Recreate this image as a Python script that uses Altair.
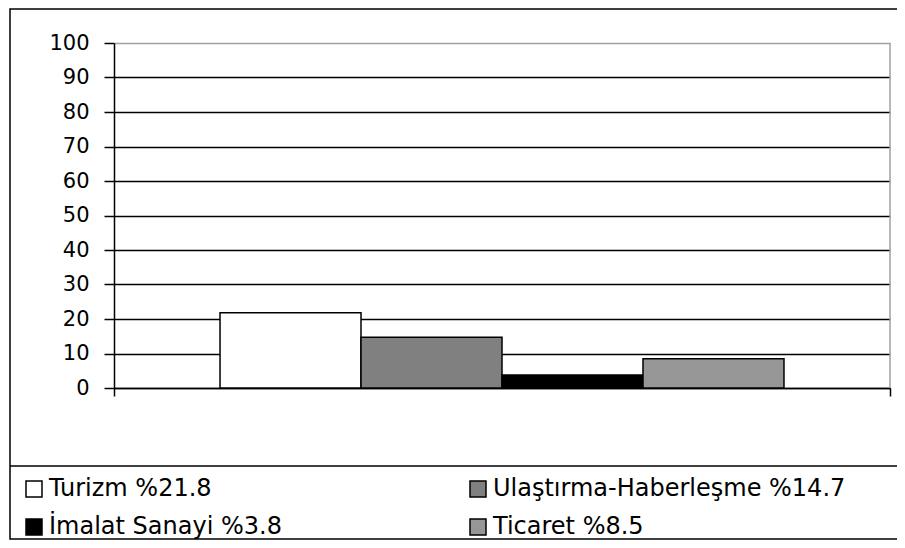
import altair as alt
import pandas as pd

# ---- data ----
sectors = ["Turizm %21.8", "Ulaştırma-Haberleşme %14.7", "İmalat Sanayi %3.8", "Ticaret %8.5"]
values = [21.8, 14.7, 3.8, 8.5]
colors = ["#ffffff", "#808080", "#000000", "#969696"]
y_ticks = [0, 10, 20, 30, 40, 50, 60, 70, 80, 90, 100]
# legend fills column by column: this order gives rows
# (Turizm, Ulaştırma) and (İmalat, Ticaret) as in the reference
legend_order = [0, 2, 1, 3]

W, H = 776, 345
FONT = "DejaVu Sans"

df = pd.DataFrame({"sector": sectors, "value": values})
leg_domain = [sectors[i] for i in legend_order]
leg_range = [colors[i] for i in legend_order]

bars = alt.Chart(df).mark_bar(stroke="black", strokeWidth=1.5).encode(
    x=alt.X("sector:N", sort=sectors,
            scale=alt.Scale(paddingInner=0, paddingOuter=0.752), axis=None),
    y=alt.Y("value:Q", scale=alt.Scale(domain=[0, 100], nice=False),
            axis=alt.Axis(values=y_ticks, title=None, tickSize=10, tickWidth=1.5,
                          tickColor="black", domainColor="black", domainWidth=1.5,
                          labelFont=FONT, labelFontSize=21, labelColor="black",
                          labelPadding=15, grid=True, gridWidth=1.3,
                          gridColor={"condition": {"test": "datum.value === 100", "value": "#a0a0a0"},
                                     "value": "#000000"})),
    fill=alt.Fill("sector:N",
                  scale=alt.Scale(domain=leg_domain, range=leg_range),
                  legend=alt.Legend(orient="none", legendX=-92, legendY=434, columns=2,
                                    title=None, symbolType="square", symbolSize=256,
                                    symbolStrokeColor="black", symbolStrokeWidth=1.5,
                                    labelFont=FONT, labelFontSize=24, labelColor="black",
                                    labelOffset=3, columnPadding=184, rowPadding=14,
                                    padding=0, labelLimit=600)),
)

ends = alt.Chart(pd.DataFrame({"e": [0, 1]})).mark_point(opacity=0).encode(
    x=alt.X("e:Q", scale=alt.Scale(domain=[0, 1], nice=False, zero=False),
            axis=alt.Axis(values=[0, 1], labels=False, title=None, tickSize=8,
                          tickWidth=1.5, tickColor="black", domainColor="black",
                          domainWidth=1.5, grid=False, orient="bottom")),
)

one = pd.DataFrame({"k": [0]})
frame = alt.Chart(one).mark_rect(fillOpacity=0, stroke="black", strokeWidth=1.5).encode(
    x=alt.value(-104), x2=alt.value(820), y=alt.value(-34), y2=alt.value(496))
sep = alt.Chart(one).mark_rule(color="black", strokeWidth=1.5).encode(
    x=alt.value(-104), x2=alt.value(820), y=alt.value(423))
right = alt.Chart(one).mark_rule(color="#a0a0a0", strokeWidth=1.5).encode(
    x=alt.value(W), y=alt.value(0), y2=alt.value(H))

chart = alt.layer(right, bars, ends, frame, sep).resolve_scale(x="independent").properties(
    width=W, height=H,
    autosize=alt.AutoSizeParams(type="none"),
    padding={"left": 106, "top": 35, "right": 7, "bottom": 152},
    background="white",
).configure_view(strokeWidth=0)

chart.save("out.html", embed_options={"renderer": "svg", "actions": False})
